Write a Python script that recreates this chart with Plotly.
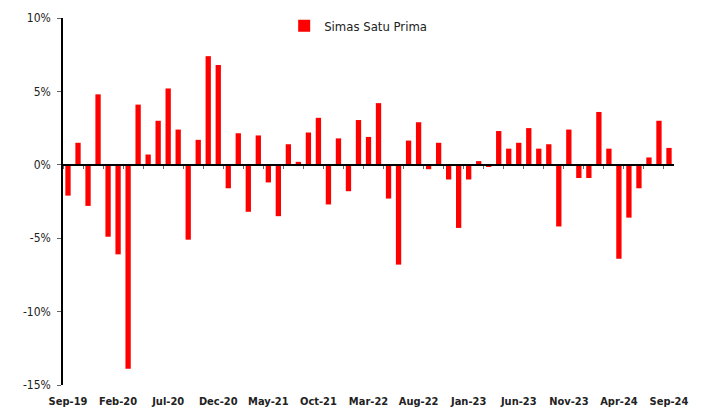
import plotly.graph_objects as go

months = ["Sep-19","Oct-19","Nov-19","Dec-19","Jan-20","Feb-20","Mar-20","Apr-20","May-20","Jun-20",
          "Jul-20","Aug-20","Sep-20","Oct-20","Nov-20","Dec-20","Jan-21","Feb-21","Mar-21","Apr-21",
          "May-21","Jun-21","Jul-21","Aug-21","Sep-21","Oct-21","Nov-21","Dec-21","Jan-22","Feb-22",
          "Mar-22","Apr-22","May-22","Jun-22","Jul-22","Aug-22","Sep-22","Oct-22","Nov-22","Dec-22",
          "Jan-23","Feb-23","Mar-23","Apr-23","May-23","Jun-23","Jul-23","Aug-23","Sep-23","Oct-23",
          "Nov-23","Dec-23","Jan-24","Feb-24","Mar-24","Apr-24","May-24","Jun-24","Jul-24","Aug-24",
          "Sep-24"]

returns = [-2.1, 1.5, -2.8, 4.8, -4.9, -6.1, -13.9, 4.1, 0.7, 3.0,
           5.2, 2.4, -5.1, 1.7, 7.4, 6.8, -1.6, 2.15, -3.2, 2.0,
           -1.2, -3.5, 1.4, 0.2, 2.2, 3.2, -2.7, 1.8, -1.8, 3.05,
           1.9, 4.2, -2.3, -6.8, 1.65, 2.9, -0.3, 1.5, -1.0, -4.3,
           -1.0, 0.25, -0.15, 2.3, 1.1, 1.5, 2.5, 1.1, 1.4, -4.2,
           2.4, -0.9, -0.9, 3.6, 1.1, -6.4, -3.6, -1.6, 0.5, 3.0,
           1.15]

series_name = "Simas Satu Prima"

y_tick_vals = [-15, -10, -5, 0, 5, 10]
y_tick_text = ["-15%", "-10%", "-5%", "0%", "5%", "10%"]
x_tick_labels = months[::5]

fig = go.Figure()
fig.add_trace(go.Bar(x=months, y=returns, name=series_name,
                     marker=dict(color="#FF0000", line=dict(width=0)),
                     xaxis="x", yaxis="y"))
# invisible helper trace so the zero-line axis with tick marks is drawn
fig.add_trace(go.Scatter(x=months, y=returns, mode="markers",
                         marker=dict(opacity=0), showlegend=False,
                         hoverinfo="skip", xaxis="x2", yaxis="y"))

font_family = "DejaVu Sans Condensed, DejaVu Sans, sans-serif"

fig.update_layout(
    width=702, height=407,
    margin=dict(l=63, r=28, t=17, b=22),
    paper_bgcolor="white", plot_bgcolor="white",
    bargap=0.47,
    font=dict(family=font_family, size=11, color="#222"),
    showlegend=True,
    legend=dict(x=0.362, y=0.976, xanchor="left", yanchor="middle",
                orientation="h", bgcolor="rgba(0,0,0,0)",
                font=dict(size=13, color="#222"),
                tracegroupgap=0),
    xaxis=dict(type="category", categoryarray=months, range=[-0.5, len(months) - 0.5],
               showline=False, ticks="", showgrid=False, zeroline=False,
               tickmode="array", tickvals=x_tick_labels, ticktext=x_tick_labels,
               tickfont=dict(family=font_family, size=11, color="#222", weight="bold"),
               ticklabelstandoff=8,
               anchor="y", side="bottom", automargin=False),
    xaxis2=dict(type="category", categoryarray=months, range=[-0.5, len(months) - 0.5],
                overlaying="x", anchor="free", position=0.6,
                showline=True, linecolor="black", linewidth=1.5,
                ticks="outside", ticklen=3, tickcolor="#666", tickwidth=1,
                tickson="boundaries", showticklabels=False, showgrid=False,
                zeroline=False, automargin=False),
    yaxis=dict(range=[-15, 10], tickmode="array", tickvals=y_tick_vals, ticktext=y_tick_text,
               showline=True, linecolor="black", linewidth=1.5,
               ticks="outside", ticklen=4, tickcolor="#666",
               showgrid=False, zeroline=False, automargin=False,
               ticklabelstandoff=4,
               tickfont=dict(family=font_family, size=12, color="#222")),
)

fig.write_html("out.html",
               config={"displayModeBar": False},
               post_script="document.body.style.margin='0';document.body.style.overflow='hidden';")
